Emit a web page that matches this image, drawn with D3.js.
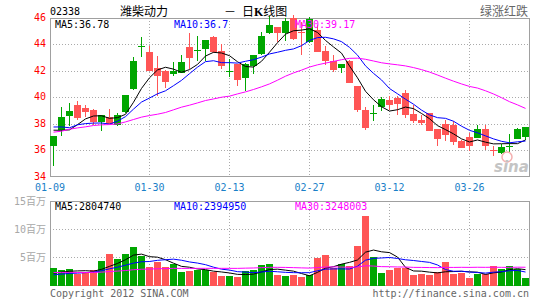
<!DOCTYPE html>
<html>
<head>
<meta charset="utf-8">
<script src="https://cdn.jsdelivr.net/npm/d3@7"></script>
<style>
  body { margin: 0; background: #fff; }
  svg { display: block; }
  text { font-family: "DejaVu Sans Mono", "Noto Sans CJK SC", monospace; font-size: 10px; }
</style>
</head>
<body>
<svg width="545" height="300"></svg>
<script>
// 潍柴动力 02338, 日K线, 2012-01-05 .. 2012-04-09
const dates = [
  '01-05','01-06','01-09','01-10','01-11','01-12','01-13','01-16','01-17','01-18',
  '01-19','01-20','01-30','01-31','02-01','02-02','02-03','02-06','02-07','02-08',
  '02-09','02-10','02-13','02-14','02-15','02-16','02-17','02-20','02-21','02-22',
  '02-23','02-24','02-27','02-28','02-29','03-01','03-02','03-05','03-06','03-07',
  '03-08','03-09','03-12','03-13','03-14','03-15','03-16','03-19','03-20','03-21',
  '03-22','03-23','03-26','03-27','03-28','03-29','03-30','04-05','04-06','04-09'
];

const open = [
  36.30, 37.55, 38.60, 39.40, 39.20, 39.05, 38.15, 38.48, 37.90, 38.90,
  40.60, 43.80, 43.40, 42.20, 42.00, 41.80, 41.85, 43.80, 43.50, 43.60,
  44.55, 43.50, 41.95, 42.48, 41.47, 42.36, 43.20, 44.78, 45.25, 44.83,
  46.00, 44.88, 44.20, 45.08, 43.50, 42.70, 42.20, 42.75, 40.82, 39.04,
  38.78, 39.31, 39.81, 39.94, 40.31, 38.73, 38.31, 38.81, 37.61, 37.98,
  37.88, 36.68, 37.01, 36.98, 37.61, 36.00, 35.80, 36.33, 36.88, 36.98
];
const high = [
  37.10, 39.25, 39.55, 39.73, 39.45, 39.10, 38.70, 39.10, 38.85, 40.20,
  43.00, 44.55, 43.85, 43.10, 42.05, 42.65, 43.20, 44.85, 44.60, 44.30,
  44.60, 44.00, 42.87, 42.50, 42.55, 43.18, 44.90, 46.10, 45.30, 46.00,
  46.20, 45.65, 46.05, 45.45, 43.82, 43.15, 42.50, 42.82, 40.82, 39.30,
  39.38, 39.99, 40.06, 40.06, 40.56, 39.41, 38.68, 38.81, 37.61, 38.31,
  38.19, 36.80, 37.31, 37.93, 37.93, 36.31, 36.48, 37.23, 37.68, 37.76
];
const low = [
  34.80, 37.05, 37.85, 38.30, 38.50, 37.94, 37.47, 37.95, 37.85, 38.85,
  40.55, 43.00, 41.95, 40.10, 40.70, 41.60, 41.85, 42.15, 42.70, 42.70,
  43.35, 42.10, 41.55, 40.82, 40.50, 41.72, 43.20, 44.78, 44.15, 44.20,
  44.30, 43.15, 44.10, 43.45, 42.45, 41.90, 41.82, 41.07, 38.87, 37.50,
  38.19, 38.99, 39.06, 38.68, 38.43, 38.06, 37.88, 37.43, 36.36, 36.68,
  36.43, 36.18, 35.98, 36.98, 36.06, 35.60, 35.73, 35.80, 36.88, 36.81
];
const close = [
  37.05, 38.55, 38.95, 38.40, 38.90, 38.15, 38.65, 37.97, 38.65, 40.15,
  42.70, 43.85, 41.98, 41.60, 41.15, 42.00, 42.65, 43.00, 43.55, 44.30,
  43.40, 42.40, 41.98, 41.27, 42.52, 43.18, 44.58, 45.40, 44.83, 45.75,
  44.45, 44.83, 45.90, 43.45, 42.75, 42.00, 42.50, 41.07, 38.99, 37.68,
  38.81, 39.89, 39.44, 39.49, 38.68, 38.23, 38.06, 37.48, 36.88, 37.18,
  36.63, 36.18, 36.31, 37.63, 36.36, 35.98, 36.23, 36.36, 37.61, 37.76
];
// closes before 01-05, only feed the moving averages
const prevClose = [
  36.45, 34.45, 35.40, 36.50, 35.15, 37.15, 37.37, 37.15, 35.65, 37.30,
  38.45, 38.38, 38.60, 37.25, 36.00, 36.65, 38.50, 38.45, 38.90, 39.85,
  38.50, 39.57, 36.17, 38.00, 37.77, 38.58, 38.80, 36.43, 36.75
];

// 成交量, 百万股
const volume = [
  3.14, 2.72, 2.90, 2.13, 2.25, 2.72, 4.32, 5.56, 4.73, 5.56,
  6.80, 5.20, 3.31, 4.26, 3.31, 3.73, 2.37, 2.55, 2.72, 2.72,
  2.37, 1.66, 1.66, 1.48, 2.55, 2.72, 3.61, 3.79, 1.84, 1.66,
  1.84, 1.48, 1.84, 4.85, 5.38, 3.14, 3.73, 3.43, 6.98, 12.29,
  5.03, 2.19, 2.72, 3.02, 3.14, 1.84, 2.01, 1.84, 2.37, 4.14,
  2.01, 2.25, 1.31, 2.13, 2.13, 3.43, 2.96, 3.43, 2.96, 1.31
];
const prevVolume = [
  2.6, 2.3, 2.9, 2.4, 2.2, 2.8, 2.5, 2.1, 2.7, 2.4,
  2.6, 2.3, 2.9, 2.5, 2.2, 2.8, 2.4, 2.6, 2.5, 2.6,
  1.5, 1.7, 1.6, 1.4, 1.8, 1.9, 2.1, 1.8, 2.06
];

const priceTicks = [34, 36, 38, 40, 42, 44, 46];
const volTicks = [5, 10, 15];
const dateTicks = ['01-30', '02-13', '02-27', '03-12', '03-26'];
const firstLabel = '01-09';
const maPeriods = [5, 10, 30];
const maColors = ['#000000', '#0000ff', '#ff00ff'];
const priceMaText = ['MA5:36.78', 'MA10:36.7', 'MA30:39.17'];
const volMaText = ['MA5:2804740', 'MA10:2394950', 'MA30:3248003'];

const UP = '#00a600', DOWN = '#ff5555';

function movingAvg(values, prev, n) {
  const all = prev.concat(values);
  return values.map((v, i) => d3.mean(all.slice(prev.length + i - n + 1, prev.length + i + 1)));
}

function drawChart() {
  const svg = d3.select('svg');
  const area = { left: 50, right: 529, top: 18, bottom: 176, vTop: 201, vBottom: 285 };

  const x = d3.scaleBand().domain(dates).range([area.left, area.left + 8 * dates.length]);
  const cx = d => Math.floor(x(d) + 3) + 0.5;
  const y = d3.scaleLinear().domain([34, 46]).range([177, 17.5]);
  const yv = d3.scaleLinear().domain([0, 15]).range([area.vBottom + 0.5, area.vTop]);

  const candles = dates.map((d, i) => ({ d, o: open[i], h: high[i], l: low[i], c: close[i], v: volume[i] }));
  const color = k => k.c >= k.o ? UP : DOWN;

  // сетка
  const grid = svg.append('g').attr('stroke', '#aaa').attr('stroke-dasharray', '1,2').attr('shape-rendering', 'crispEdges');
  grid.selectAll('.hp').data(priceTicks.slice(1, -1)).enter().append('line')
    .attr('x1', area.left).attr('x2', area.right)
    .attr('y1', d => Math.round(y(d)) + 0.5).attr('y2', d => Math.round(y(d)) + 0.5);
  grid.selectAll('.hv').data(volTicks.slice(0, -1)).enter().append('line')
    .attr('x1', area.left).attr('x2', area.right)
    .attr('y1', d => Math.round(yv(d)) + 0.5).attr('y2', d => Math.round(yv(d)) + 0.5);
  grid.selectAll('.vp').data(dateTicks).enter().append('line')
    .attr('x1', cx).attr('x2', cx).attr('y1', area.top).attr('y2', area.bottom);
  grid.selectAll('.vv').data(dateTicks).enter().append('line')
    .attr('x1', cx).attr('x2', cx).attr('y1', area.vTop).attr('y2', area.vBottom);

  // рамки
  svg.append('rect').attr('x', area.left + 0.5).attr('y', area.top + 0.5)
    .attr('width', area.right - area.left).attr('height', area.bottom - area.top)
    .attr('fill', 'none').attr('stroke', '#a0a0a0');
  svg.append('rect').attr('x', area.left + 0.5).attr('y', area.vTop + 0.5)
    .attr('width', area.right - area.left).attr('height', area.vBottom - area.vTop)
    .attr('fill', 'none').attr('stroke', '#a0a0a0');

  // свечи
  const gc = svg.append('g').attr('shape-rendering', 'crispEdges');
  gc.selectAll('.wick').data(candles).enter().append('line')
    .attr('x1', d => cx(d.d)).attr('x2', d => cx(d.d))
    .attr('y1', d => y(d.h)).attr('y2', d => y(d.l))
    .attr('stroke', color);
  gc.selectAll('.body').data(candles).enter().append('rect')
    .attr('x', d => x(d.d)).attr('width', 7)
    .attr('y', d => Math.round(y(Math.max(d.o, d.c))))
    .attr('height', d => Math.max(1, Math.round(Math.abs(y(d.o) - y(d.c)))))
    .attr('fill', color);

  // объём
  gc.selectAll('.vol').data(candles).enter().append('rect')
    .attr('x', d => x(d.d)).attr('width', 7)
    .attr('y', d => Math.round(yv(d.v)))
    .attr('height', d => area.vBottom + 1 - Math.round(yv(d.v)))
    .attr('fill', color);

  // скользящие средние
  maPeriods.forEach((n, k) => {
    const ma = movingAvg(close, prevClose, n);
    svg.append('path').datum(ma)
      .attr('d', d3.line().x((d, i) => x(dates[i]) + 3.5).y(d => y(d)))
      .attr('fill', 'none').attr('stroke', maColors[k]).attr('stroke-width', 1);
    const mv = movingAvg(volume, prevVolume, n);
    svg.append('path').datum(mv)
      .attr('d', d3.line().x((d, i) => x(dates[i]) + 3.5).y(d => yv(d)))
      .attr('fill', 'none').attr('stroke', maColors[k]).attr('stroke-width', 1);
  });

  // подписи осей
  svg.selectAll('.py').data(priceTicks).enter().append('text')
    .attr('x', 46).attr('y', d => y(d) + 3)
    .attr('text-anchor', 'end').attr('fill', '#ff0000').text(d => d);
  svg.selectAll('.vy').data(volTicks).enter().append('text')
    .attr('x', 46).attr('y', d => yv(d) + 3.5)
    .attr('text-anchor', 'end').attr('fill', '#a8a8a8').text(d => d + '百万');
  svg.selectAll('.dx').data(dateTicks).enter().append('text')
    .attr('x', d => cx(d)).attr('y', 191)
    .attr('text-anchor', 'middle').attr('fill', '#1a80c8').text(d => d);
  svg.append('text').attr('x', area.left).attr('y', 191)
    .attr('text-anchor', 'middle').attr('fill', '#1a80c8').text(firstLabel);

  // легенды
  const legendX = [55, 174, 295];
  priceMaText.forEach((t, k) => {
    svg.append('text').attr('x', legendX[k]).attr('y', 28).attr('fill', maColors[k]).text(t);
    svg.append('text').attr('x', legendX[k]).attr('y', 210).attr('fill', maColors[k]).text(volMaText[k]);
  });

  // заголовок
  svg.append('text').attr('x', 50).attr('y', 15).text('02338');
  svg.append('text').attr('x', 120).attr('y', 15.5)
    .style('font-family', '"Noto Sans CJK SC"').style('font-size', '12px').text('潍柴动力');
  svg.append('text').attr('x', 224).attr('y', 15.5)
    .style('font-family', '"Noto Sans CJK SC"').style('font-size', '12px').text('－');
  const t = svg.append('text').attr('x', 242).attr('y', 15.5)
    .style('font-family', '"Noto Sans CJK SC"').style('font-size', '12px');
  t.append('tspan').text('日');
  t.append('tspan').style('font-family', '"Liberation Serif"').style('font-weight', 'bold').text('K');
  t.append('tspan').text('线图');
  svg.append('text').attr('x', 528).attr('y', 15.5).attr('text-anchor', 'end').attr('fill', '#666')
    .style('font-family', '"Noto Sans CJK SC"').style('font-size', '12px').text('绿涨红跌');

  // подвал
  svg.append('text').attr('x', 50).attr('y', 297).attr('fill', '#666').text('Copyright 2012 SINA.COM');
  svg.append('text').attr('x', 529).attr('y', 297).attr('text-anchor', 'end').attr('fill', '#666')
    .text('http://finance.sina.com.cn');

  // логотип
  svg.append('circle').attr('cx', 507).attr('cy', 157).attr('r', 5)
    .attr('fill', 'none').attr('stroke', '#f4b0b0').attr('stroke-width', 1.5);
  svg.append('text').attr('x', 494).attr('y', 172).attr('fill', '#c4c4c4')
    .style('font-family', '"DejaVu Sans"').style('font-size', '15px')
    .style('font-style', 'italic').style('font-weight', 'bold').text('sina');
}

drawChart();
</script>
</body>
</html>
